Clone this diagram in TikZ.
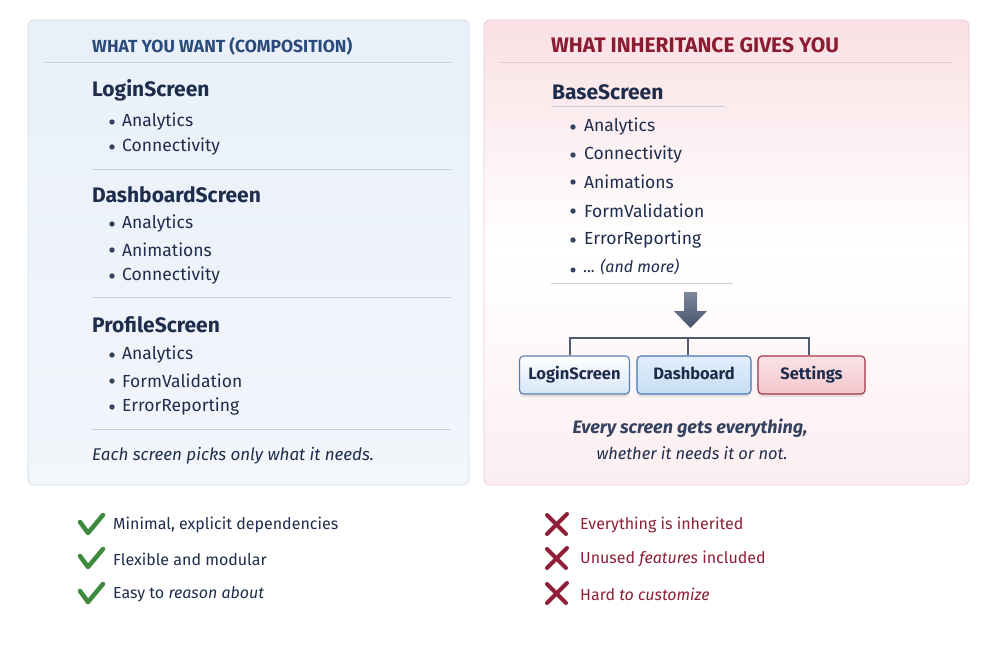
\documentclass[tikz,border=0pt]{standalone}
\usepackage{fontspec}
\setmainfont{Fira Sans}
\usetikzlibrary{shadows,arrows.meta}
\definecolor{navy}{HTML}{1F2D4D}
\definecolor{hblue}{HTML}{2B4B7D}
\definecolor{hred}{HTML}{8A1B30}
\definecolor{pblue}{HTML}{E9F0F9}
\definecolor{pbluebot}{HTML}{F3F6FB}
\definecolor{bblue}{HTML}{D3DDEA}
\definecolor{rulec}{HTML}{C7D1DE}
\definecolor{pinktop}{HTML}{F9E0E4}
\definecolor{pinkbot}{HTML}{FCEEF0}
\definecolor{bpink}{HTML}{F0CBD1}
\definecolor{rulep}{HTML}{EBC3CA}
\definecolor{treec}{HTML}{4F5B6E}
\definecolor{arrowc}{HTML}{44546E}
\definecolor{chk}{HTML}{3E8A3E}
\definecolor{xred}{HTML}{8E1F37}
\definecolor{lbord}{RGB}{91,127,175}
\definecolor{dbord}{RGB}{70,118,180}
\definecolor{sbord}{RGB}{163,52,69}
\begin{document}
\begin{tikzpicture}[x=1pt,y=-1pt,
  panel/.style={rounded corners=6pt,line width=0.8pt},
  hdr/.style={anchor=west,inner sep=0pt,font=\fontsize{17.5}{19}\selectfont\bfseries},
  scr/.style={anchor=west,inner sep=0pt,text=navy,font=\fontsize{21}{24}\selectfont\bfseries},
  item/.style={anchor=west,inner sep=0pt,text=navy,font=\fontsize{17.5}{20}\selectfont},
  dot/.style={fill=navy!90},
  note/.style={inner sep=0pt,text=navy,font=\fontsize{17}{20}\selectfont\itshape},
  sbox/.style={rounded corners=4pt,line width=1.1pt,minimum height=38pt,inner sep=0pt,
     text height=12pt,text depth=3.5pt,
     text=navy,font=\fontsize{16.5}{20}\selectfont\bfseries,
     drop shadow={opacity=0.18,shadow xshift=0pt,shadow yshift=-3pt}},
  tree/.style={draw=treec,line width=1.1pt},
  pro/.style={anchor=west,inner sep=0pt,text=navy,font=\fontsize{16}{19}\selectfont},
  con/.style={anchor=west,inner sep=0pt,text=xred,font=\fontsize{16}{19}\selectfont},
  chkm/.style={draw=chk,line width=4.5pt,line cap=round,line join=round},
  xm/.style={draw=xred,line width=4pt,line cap=round}
]
\useasboundingbox (0,0) rectangle (1004,651);
\fill[white] (0,0) rectangle (1004,651);
% panels
\shade[panel,top color=pblue,bottom color=pbluebot] (28,20) rectangle (469,485);
\shade[panel,top color=pinktop,bottom color=pinkbot,middle color=white] (484,20) rectangle (969,485);
\draw[panel,draw=bpink] (484,20) rectangle (969,485);
\draw[panel,draw=bblue] (28,20) rectangle (469,485);

% left content
\node[hdr,text=hblue] (lh) at (92,46) {WHAT YOU WANT (COMPOSITION)};
\draw[rulec,line width=1pt] (45,62) -- (451,62);
\node[scr] (ls1) at (92,90) {LoginScreen};
\node[scr] (ls2) at (92,195) {DashboardScreen};
\node[scr] (ls3) at (92,325) {ProfileScreen};
\foreach \y/\t/\n in {121/Analytics/a1,146/Connectivity/a2,223/Analytics/b1,249/Animations/b2,275/Connectivity/b3,354/Analytics/c1,380/FormValidation/c2,406/ErrorReporting/c3}{
  \fill[dot] (112,\y+1) circle (2.7pt);
  \node[item] (l\n) at (122,\y+1) {\t};
}
\draw[rulec,line width=1pt] (92,169) -- (451,169);
\draw[rulec,line width=1pt] (92,297) -- (451,297);
\draw[rulec,line width=1pt] (92,429) -- (451,429);
\node[note,anchor=west] (lnote) at (92,456) {Each screen picks only what it needs.};

% right content
\node[hdr,text=hred,font=\fontsize{21}{23}\selectfont\bfseries] (rh) at (551,45) {WHAT INHERITANCE GIVES YOU};
\draw[rulep,line width=1pt] (500,62) -- (952,62);
\node[scr] (base) at (552,92) {BaseScreen};
\draw[rulec,line width=1pt] (551,106) -- (725,106);
\foreach \y/\t/\n in {126/Analytics/1,154/Connectivity/2,181/Animations/3,210/FormValidation/4,239/ErrorReporting/5}{
  \fill[dot] (573,\y+1) circle (2.7pt);
  \node[item] (r\n) at (584,\y+1) {\t};
}
\fill[dot] (573,270) circle (2.5pt);
\node[item,font=\fontsize{16}{18}\selectfont] (r6) at (583,267) {... \textit{(and more)}};
\draw[rulec,line width=1pt] (551,283) -- (733,283);

% block arrow
\shade[top color=arrowc!70,bottom color=arrowc] (684,292) -- (697,292) -- (697,311) -- (707,311) -- (690.5,328) -- (674,311) -- (684,311) -- cycle;

% boxes
\node[sbox,top color=white,bottom color={rgb,255:red,214;green,229;blue,246},draw=lbord,minimum width=110pt] (bl) at (574.5,375) {LoginScreen};
\node[sbox,top color={rgb,255:red,226;green,238;blue,250},bottom color={rgb,255:red,200;green,222;blue,244},draw=dbord,minimum width=114pt] (bd) at (694,375) {Dashboard};
\node[sbox,top color={rgb,255:red,250;green,226;blue,229},bottom color={rgb,255:red,243;green,199;blue,205},draw=sbord,minimum width=107pt] (bs) at (811.5,375) {Settings};

% tree
\draw[tree] (bl.north -| 570,0) -- (570,338) -- (809,338) -- (bs.north -| 809,0);
\draw[tree] (688,338) -- (bd.north -| 688,0);

\node[note,font=\fontsize{18}{21}\selectfont\itshape\bfseries,text=navy!90] (c1) at (690,428) {Every screen gets everything,};
\node[note,font=\fontsize{16.5}{19}\selectfont\itshape] (c2) at (692,453) {whether it needs it or not.};

% pros
\foreach \y/\t/\n in {524/{Minimal, explicit dependencies}/1,558/{Flexible and modular}/2,593/{Easy to \textit{reason about}}/3}{
  \draw[chkm] (80,\y-2) -- (88,\y+9) -- (103,\y-9);
  \node[pro] (p\n) at (113,\y+1) {\t};
}
% cons
\foreach \y/\t/\n in {524/{Everything is inherited}/1,558/{Unused \textit{features} included}/2,593/{Hard \textit{to customize}}/3}{
  \draw[xm] (547,\y-9) -- (566,\y+10);
  \draw[xm] (567,\y-10) -- (547,\y+10);
  \node[con] (n\n) at (580,\y+1) {\t};
}
\end{tikzpicture}
\end{document}
